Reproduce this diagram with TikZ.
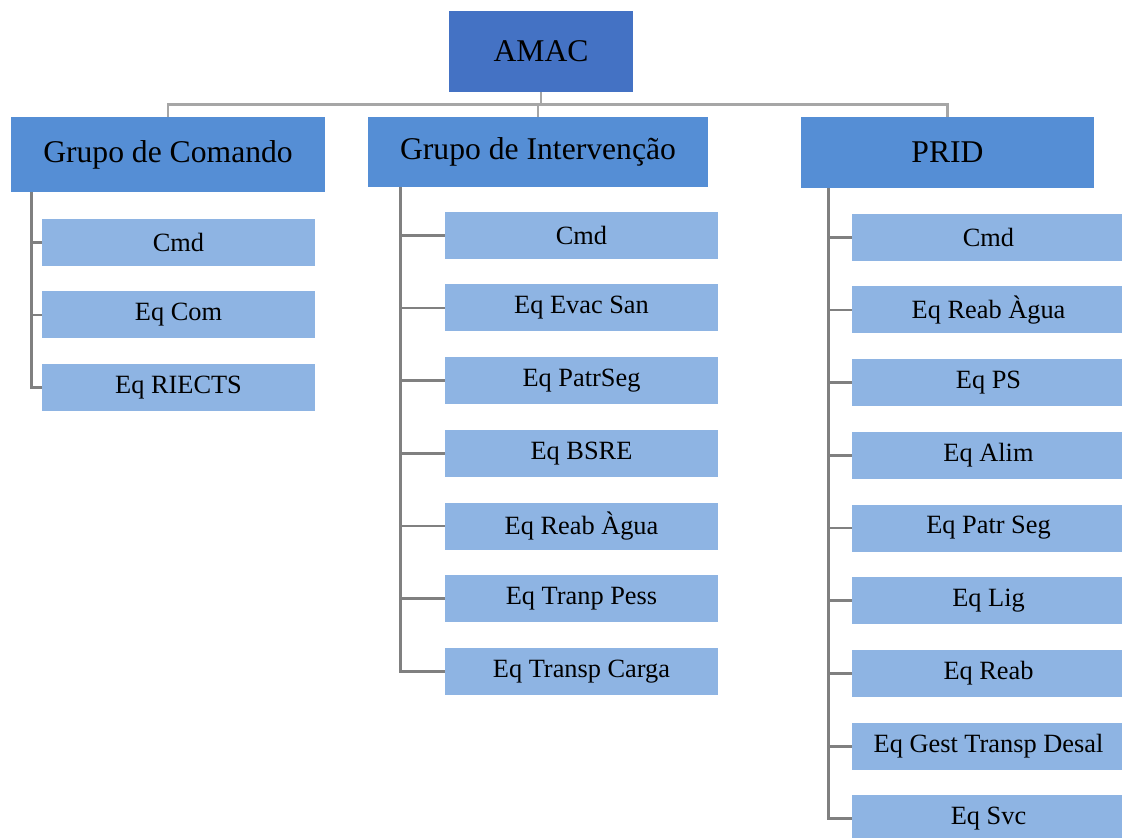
\documentclass[tikz,border=0pt]{standalone}
\usepackage{fontspec}
\setmainfont{Liberation Serif}
\usepackage{xcolor}
\usetikzlibrary{positioning}

\definecolor{topblue}{HTML}{4472C4}
\definecolor{grpblue}{HTML}{558ED5}
\definecolor{itemblue}{HTML}{8EB4E3}
\definecolor{busgray}{HTML}{A6A6A6}
\definecolor{spinegray}{HTML}{808080}

\begin{document}
\begin{tikzpicture}[
    node distance=0.5cm,
    head/.style={fill=grpblue, minimum height=1.45cm, align=center, font=\fontsize{18}{21}\selectfont},
    item/.style={fill=itemblue, minimum width=5.46cm, minimum height=0.94cm, align=center, font=\fontsize{15}{18}\selectfont},
    bus/.style={draw=busgray, line width=1.6pt},
    spine/.style={draw=spinegray, line width=1.6pt}
]
\useasboundingbox (0,0) rectangle (22.44,-16.74);

% top level
\node[fill=topblue, minimum width=3.68cm, minimum height=1.62cm, font=\fontsize{18}{21}\selectfont] (amac) at (10.82,-1.03) {AMAC};

% groups
\node[head, minimum width=6.28cm, minimum height=1.5cm] (gcom) at (3.36,-3.09) {Grupo de Comando};
\node[head, minimum width=6.8cm, minimum height=1.4cm] (gint) at (10.76,-3.04) {Grupo de Interven\c{c}\~ao};
\node[head, minimum width=5.86cm, minimum height=1.42cm] (prid) at (18.95,-3.05) {PRID};

\draw[bus] (amac.south) -- ++(0,-0.24) -| (gcom.north);
\draw[bus] (amac.south) -- ++(0,-0.24) -| (gint.north);
\draw[bus] (amac.south) -- ++(0,-0.24) -| (prid.north);

% Grupo de Comando
\node[item, below right=0.52cm and 0.62cm of gcom.south west, anchor=north west] (com1) {Cmd};
\node[item, below=of com1] (com2) {Eq Com};
\node[item, below=of com2] (com3) {Eq RIECTS};

% Grupo de Intervencao
\node[item, below right=0.48cm and 1.54cm of gint.south west, anchor=north west] (int1) {Cmd};
\node[item, below=of int1] (int2) {Eq Evac San};
\node[item, below=of int2] (int3) {Eq PatrSeg};
\node[item, below=of int3] (int4) {Eq BSRE};
\node[item, below=of int4] (int5) {Eq Reab \`Agua};
\node[item, below=of int5] (int6) {Eq Tranp Pess};
\node[item, below=of int6] (int7) {Eq Transp Carga};

% PRID
\node[item, below right=0.5cm and 1.02cm of prid.south west, anchor=north west] (prd1) {Cmd};
\node[item, below=of prd1] (prd2) {Eq Reab \`Agua};
\node[item, below=of prd2] (prd3) {Eq PS};
\node[item, below=of prd3] (prd4) {Eq Alim};
\node[item, below=of prd4] (prd5) {Eq Patr Seg};
\node[item, below=of prd5] (prd6) {Eq Lig};
\node[item, below=of prd6] (prd7) {Eq Reab};
\node[item, below=of prd7] (prd8) {Eq Gest Transp Desal};
\node[item, below=of prd8] (prd9) {Eq Svc};

% spines
\foreach \c in {com1,com2,com3}
  \draw[spine] ([xshift=0.42cm]gcom.south west) |- (\c.west);
\foreach \c in {int1,int2,int3,int4,int5,int6,int7}
  \draw[spine] ([xshift=0.66cm]gint.south west) |- (\c.west);
\foreach \c in {prd1,prd2,prd3,prd4,prd5,prd6,prd7,prd8,prd9}
  \draw[spine] ([xshift=0.56cm]prid.south west) |- (\c.west);

\end{tikzpicture}
\end{document}
